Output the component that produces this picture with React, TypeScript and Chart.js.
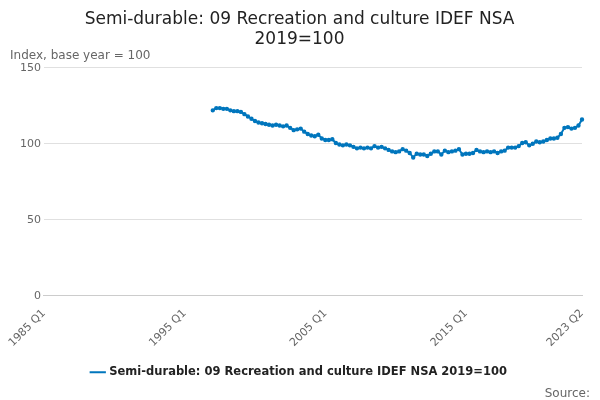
import React, { useEffect, useRef } from "react";
import { Chart, registerables } from "chart.js";
Chart.register(...registerables);

const startYear = 1985;
const endYear = 2023;
const firstDataLabel = "1997 Q1";
const shownTicks = ["1985 Q1", "1995 Q1", "2005 Q1", "2015 Q1", "2023 Q2"];
const values: number[] = [
  122, 123.5, 123.5, 123,
  123, 122, 121.5, 121.5,
  121, 119.5, 118, 116.5,
  115, 114, 113.5, 113,
  112.5, 112, 112.5, 112,
  111.5, 112, 110.5, 109,
  109.5, 110, 108, 106.5,
  105.5, 105, 106, 103.5,
  102.5, 102.5, 103, 100.5,
  99.5, 99, 99.5, 99,
  98, 97, 97.5, 97,
  97.5, 97, 98.5, 97.5,
  98, 97, 96, 95,
  94.5, 95, 96.5, 95.5,
  94, 91, 93.5, 93,
  93, 92, 93.5, 95,
  95, 93, 95.5, 94.5,
  95, 95.5, 96.5, 93,
  93.5, 93.5, 94, 96,
  95, 94.5, 95, 94.5,
  95, 94, 95, 95.5,
  97.5, 97.5, 97.5, 98.5,
  100.5, 101, 99, 100,
  101.5, 101, 101.5, 102.5,
  103.5, 103.5, 104, 106.5,
  110.5, 111, 110, 110.5,
  112, 116,
];

const labels: string[] = [];
for (let y = startYear; y <= endYear; y++) {
  for (let q = 1; q <= 4; q++) {
    labels.push(`${y} Q${q}`);
    if (y === endYear && q === 2) break;
  }
}
const offset = labels.indexOf(firstDataLabel);
const series = labels.map((_, i) => (i >= offset && i - offset < values.length ? values[i - offset] : null));

export default function App() {
  const ref = useRef<HTMLCanvasElement>(null);
  useEffect(() => {
    const color = "#0076bd";
    const chart = new Chart(ref.current!, {
      type: "line",
      data: {
        labels,
        datasets: [{
          label: "Semi-durable: 09 Recreation and culture IDEF NSA 2019=100",
          data: series,
          borderColor: color,
          backgroundColor: color,
          borderWidth: 2,
          pointRadius: 1.2,
          pointHoverRadius: 2,
        }],
      },
      options: {
        animation: false,
        responsive: false,
        layout: { padding: { left: 17, right: 18, bottom: 12 } },
        plugins: {
          title: {
            display: true,
            text: ["Semi-durable: 09 Recreation and culture IDEF NSA", "2019=100"],
            color: "#222",
            font: { size: 17, weight: "normal", family: "DejaVu Sans" },
            padding: { top: 9, bottom: 18 },
          },
          legend: {
            position: "bottom",
            labels: {
              color: "#222",
              font: { size: 11.5, weight: "bold", family: "DejaVu Sans" },
              usePointStyle: true,
              pointStyle: "line",
              boxWidth: 20,
              padding: 14,
            },
          },
          tooltip: { enabled: false },
        },
        scales: {
          x: {
            grid: { display: false, drawTicks: true },
            border: { color: "#ccc" },
            ticks: {
              autoSkip: false,
              maxRotation: 45,
              minRotation: 45,
              color: "#666",
              font: { size: 11, family: "DejaVu Sans" },
              callback: (_v, i) => (shownTicks.includes(labels[i]) ? labels[i] : ""),
            },
          },
          y: {
            min: 0,
            max: 150,
            ticks: { stepSize: 50, color: "#666", font: { size: 11, family: "DejaVu Sans" } },
            grid: { color: "#e0e0e0", drawTicks: false },
            border: { display: false },
          },
        },
      },
      plugins: [{
        id: "extras",
        afterDraw(c: any) {
          const ctx = c.ctx;
          ctx.save();
          ctx.font = "12px DejaVu Sans";
          ctx.fillStyle = "#666";
          ctx.textAlign = "left";
          ctx.fillText("Index, base year = 100", 10, 56);
          ctx.textAlign = "right";
          ctx.fillText("Source:", 590, 394);
          ctx.restore();
        },
      }],
    });
    return () => chart.destroy();
  }, []);
  return <canvas ref={ref} width={600} height={400} style={{ display: "block", position: "absolute", left: 0, top: 0 }} />;
}
